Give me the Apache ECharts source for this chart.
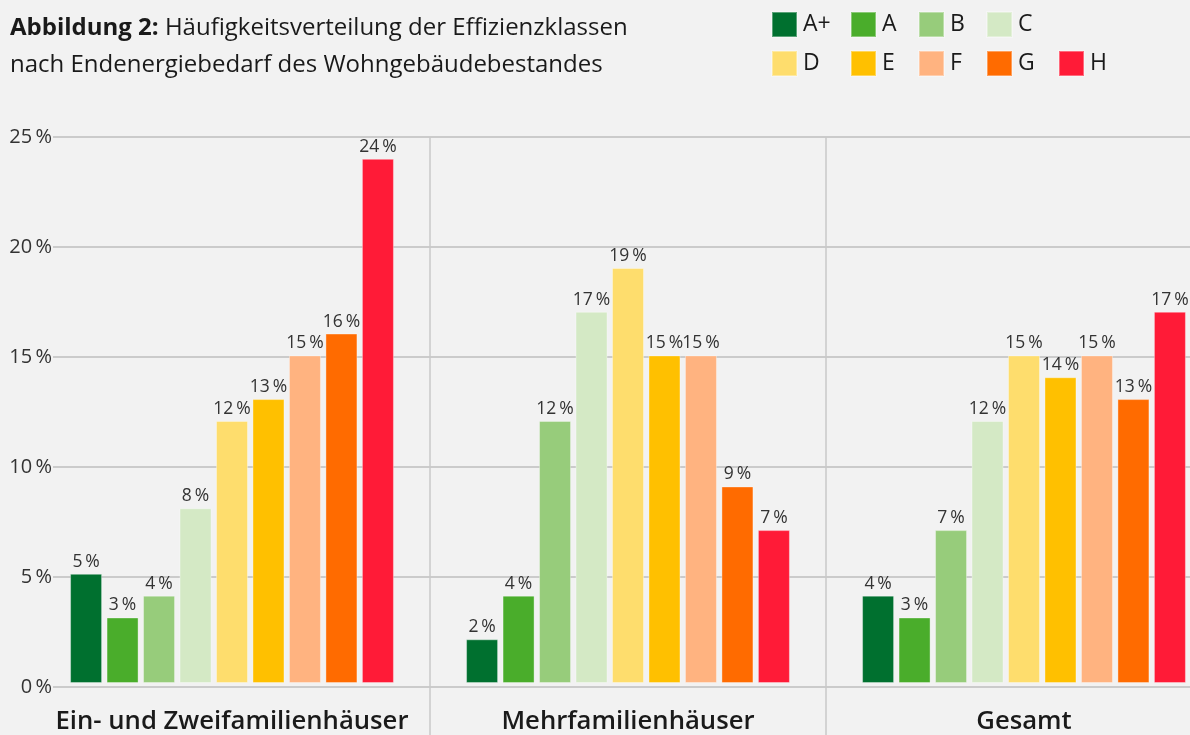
<!DOCTYPE html>
<html>
<head>
<meta charset="utf-8">
<script src="https://cdn.jsdelivr.net/npm/echarts@6/dist/echarts.min.js"></script>
<style>
html,body{margin:0;padding:0;background:#f2f2f2;overflow:hidden;}
#wrap{width:1190px;height:735px;overflow:hidden;position:relative;}
#c{width:1222px;height:735px;position:absolute;left:0;top:0;}
</style>
</head>
<body>
<div id="wrap"><div id="c"></div></div>
<script>
const groups = ['Ein- und Zweifamilienhäuser', 'Mehrfamilienhäuser', 'Gesamt'];
const classes = ['A+', 'A', 'B', 'C', 'D', 'E', 'F', 'G', 'H'];
const colors = ['#00702f', '#4aad2b', '#97cc7b', '#d4e9c5', '#fedd6d', '#ffc000', '#ffb380', '#ff6b00', '#ff1b37'];
const valAplus = [5, 2, 4];
const valA = [3, 4, 3];
const valB = [4, 12, 7];
const valC = [8, 17, 12];
const valD = [12, 19, 15];
const valE = [13, 15, 14];
const valF = [15, 15, 15];
const valG = [16, 9, 13];
const valH = [24, 7, 17];
const seriesValues = [valAplus, valA, valB, valC, valD, valE, valF, valG, valH];
const yTicks = [0, 5, 10, 15, 20, 25];

const FONT = "'Open Sans', 'Noto Sans', sans-serif";
const chart = echarts.init(document.getElementById('c'), null, {renderer: 'canvas'});

const legendPos = [
  [771, 11], [850, 11], [918, 11], [986, 11],
  [771, 50], [850, 50], [918, 50], [986, 50], [1058, 50]
];

const option = {
  backgroundColor: '#f2f2f2',
  animation: false,
  title: {
    left: 5, top: 5,
    text: '{b|Abbildung 2:} {n|Häufigkeitsverteilung der Effizienzklassen}\n{n|nach Endenergiebedarf des Wohngebäudebestandes}',
    textStyle: {
      fontFamily: FONT, fontSize: 24, color: '#1a1a1a', lineHeight: 37,
      rich: {
        b: {fontFamily: FONT, fontSize: 24, fontWeight: 'bold', color: '#1a1a1a', lineHeight: 37},
        n: {fontFamily: FONT, fontSize: 24, fontWeight: 'normal', color: '#1a1a1a', lineHeight: 37}
      }
    }
  },
  legend: classes.map((c, i) => ({
    data: [c], left: legendPos[i][0], top: legendPos[i][1], padding: 0,
    itemWidth: 25, itemHeight: 25, itemGap: 0, icon: 'rect',
    textStyle: {fontFamily: FONT, fontSize: 23, color: '#1a1a1a', padding: [5, 0, 0, 1]}
  })),
  grid: [
    {left: 53, right: 0, top: 137, bottom: 48},
    {left: 34, right: 0, top: 137, bottom: 48},
    {left: 34, right: 0, top: 137, bottom: 0}
  ],
  xAxis: [
    {gridIndex: 0, type: 'value', min: 0, max: 1, show: false},
    {gridIndex: 1, type: 'category', data: groups,
      axisLine: {show: false}, axisTick: {show: false}, splitLine: {show: false},
      axisLabel: {interval: 0, margin: 26, fontFamily: FONT, fontSize: 25.7, fontWeight: 600, color: '#1a1a1a'}},
    {gridIndex: 2, type: 'value', min: 0, max: 3, interval: 1,
      axisLine: {show: false}, axisTick: {show: false}, axisLabel: {show: false},
      splitLine: {show: true, showMinLine: false, showMaxLine: false, lineStyle: {color: '#c8c8c8', width: 1.5}}}
  ],
  yAxis: [
    {gridIndex: 0, type: 'value', min: yTicks[0], max: yTicks[yTicks.length - 1], interval: 5,
      axisLine: {show: false}, axisTick: {show: false},
      axisLabel: {margin: 1, fontFamily: FONT, fontSize: 20, color: '#333', formatter: v => v + '\u2009%'},
      splitLine: {show: true, lineStyle: {color: '#cbcbcb', width: 2}}},
    {gridIndex: 1, type: 'value', min: yTicks[0], max: yTicks[yTicks.length - 1], show: false, splitLine: {show: false}},
    {gridIndex: 2, type: 'value', min: 0, max: 1, show: false, splitLine: {show: false}}
  ],
  series: classes.map((c, i) => ({
    name: c, type: 'bar', xAxisIndex: 1, yAxisIndex: 1,
    data: seriesValues[i],
    barWidth: 32, barGap: '14%',
    itemStyle: {color: colors[i], borderColor: 'rgba(255,255,255,0.35)', borderWidth: 1},
    label: {show: true, position: 'top', distance: 3, fontFamily: FONT, fontSize: 17.5, color: '#333',
      formatter: p => p.value + '\u2009%'}
  }))
};
chart.setOption(option);
</script>
</body>
</html>
